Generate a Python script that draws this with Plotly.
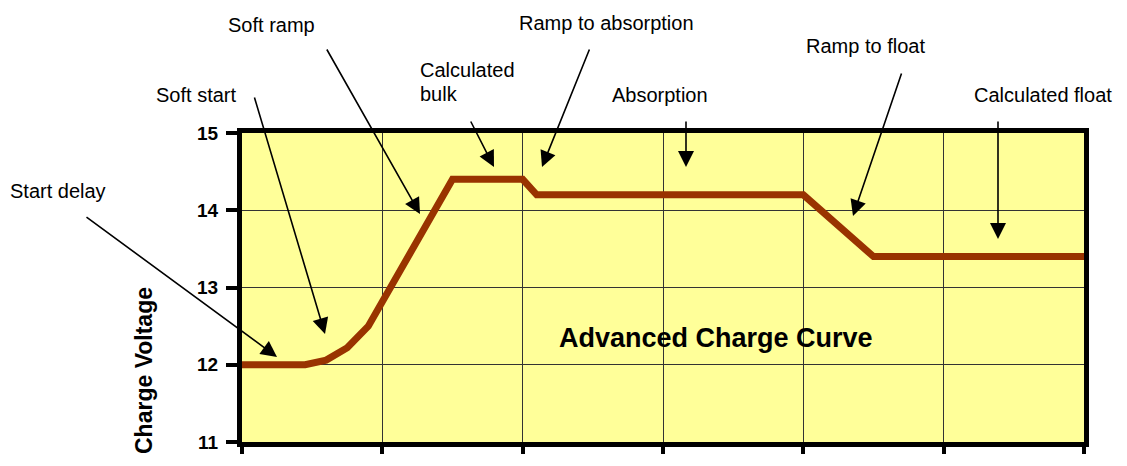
import plotly.graph_objects as go

# ---- data ----
time_units = [0, 4.5, 6, 7.5, 9, 15, 20, 21, 40, 45, 60]
charge_voltage = [12.0, 12.0, 12.06, 12.22, 12.5, 14.4, 14.4, 14.2, 14.2, 13.4, 13.4]
y_ticks = [11, 12, 13, 14, 15]
chart_title = "Advanced Charge Curve"
y_title = "Charge Voltage"
stage_labels = ["Start delay", "Soft start", "Soft ramp", "Calculated", "bulk",
                "Ramp to absorption", "Absorption", "Ramp to float", "Calculated float"]

# ---- layout geometry (page pixels) ----
PAGE_OFF = 8                      # default body margin of the html page
WIN_W, WIN_H = 1127, 466
PL, PR, PT, PB = 242, 1084, 133, 442   # plot area in page pixels
W, H = WIN_W - PAGE_OFF, WIN_H - PAGE_OFF
L = PL - PAGE_OFF
T = PT - PAGE_OFF
R = W - (PR - PAGE_OFF)
B = H - (PB - PAGE_OFF)
X0, X1 = 0, 60
Y0, Y1 = 11, 15


def px2x(px):
    return X0 + (px - PL) / (PR - PL) * (X1 - X0)


def py2y(py):
    return Y1 - (py - PT) / (PB - PT) * (Y1 - Y0)


def px2paper(px):
    return (px - PL) / (PR - PL)


def py2paper(py):
    return (PB - py) / (PB - PT)


label_pos = [
    (57.5, 191, "center"),
    (195.5, 95, "center"),
    (271, 25, "center"),
    (418, 70, "left"),
    (418, 94, "left"),
    (606.5, 23, "center"),
    (660, 95, "center"),
    (865, 46, "center"),
    (1043, 95, "center"),
]

arrows = [  # (head px, head py, tail px, tail py)
    (277, 357, 85, 216),
    (325, 334, 254, 96),
    (420, 214, 326, 48),
    (494, 167, 470, 120),
    (542, 167, 590, 48),
    (686, 167, 686, 120),
    (853, 216, 902, 72),
    (998, 239, 998, 120),
]

FONT = "Liberation Sans, Arial, sans-serif"

fig = go.Figure()
fig.add_trace(go.Scatter(
    x=time_units, y=charge_voltage, mode="lines",
    line=dict(color="#993300", width=7), hoverinfo="skip", showlegend=False,
    cliponaxis=False,
))

annotations = []
for text, (px, py, anchor) in zip(stage_labels, label_pos):
    annotations.append(dict(
        x=px2paper(px), y=py2paper(py), xref="paper", yref="paper", text=text,
        showarrow=False, xanchor=anchor, yanchor="middle",
        font=dict(family=FONT, size=20, color="black"),
    ))

for hx, hy, tx, ty in arrows:
    annotations.append(dict(
        x=px2x(hx), y=py2y(hy), xref="x", yref="y", text="", showarrow=True,
        ax=tx - hx, ay=ty - hy, axref="pixel", ayref="pixel",
        arrowhead=2, arrowsize=2.0, arrowwidth=1.6, arrowcolor="black", standoff=0,
    ))

annotations.append(dict(
    x=px2paper(716), y=py2paper(338), xref="paper", yref="paper",
    text="<b>%s</b>" % chart_title,
    showarrow=False, xanchor="center", yanchor="middle",
    font=dict(family=FONT, size=27, color="black"),
))

annotations.append(dict(
    x=px2paper(144), y=py2paper(371), xref="paper", yref="paper",
    text="<b>%s</b>" % y_title,
    showarrow=False, textangle=-90, xanchor="center", yanchor="middle",
    font=dict(family=FONT, size=23, color="black"),
))

fig.update_layout(
    width=W, height=H,
    margin=dict(l=L, r=R, t=T, b=B, pad=0),
    paper_bgcolor="white", plot_bgcolor="#FFFF99",
    showlegend=False,
    annotations=annotations,
    font=dict(family=FONT, color="black"),
)

fig.update_xaxes(
    range=[X0, X1], dtick=10, tick0=0, showticklabels=False,
    showgrid=True, gridcolor="#333333", gridwidth=1,
    showline=True, linecolor="black", linewidth=5, mirror=True,
    ticks="outside", ticklen=7, tickwidth=4, tickcolor="black",
    zeroline=False, fixedrange=True,
)
fig.update_yaxes(
    range=[Y0, Y1], tickvals=y_ticks, ticktext=[str(v) for v in y_ticks],
    showgrid=True, gridcolor="#333333", gridwidth=1,
    showline=True, linecolor="black", linewidth=5, mirror=True,
    ticks="outside", ticklen=11, tickwidth=4, tickcolor="black",
    ticklabelstandoff=4,
    tickfont=dict(family=FONT, size=19, color="black", weight="bold"),
    zeroline=False, fixedrange=True,
)

fig.write_html("out.html")
